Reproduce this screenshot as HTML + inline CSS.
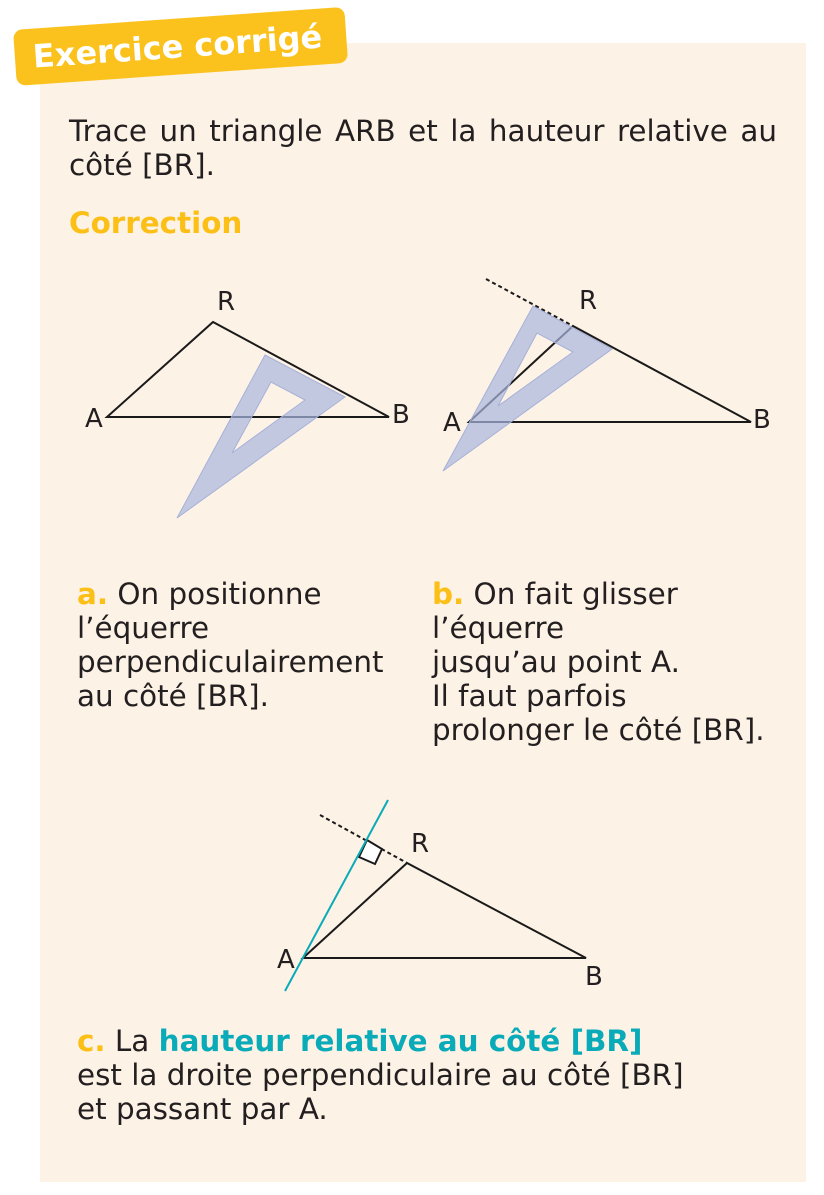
<!DOCTYPE html>
<html><head><meta charset="utf-8"><style>
body{margin:0;width:824px;height:1195px;background:#fff;position:relative;overflow:hidden;font-family:"DejaVu Sans","Liberation Sans",sans-serif;color:#231f20}
.panel{position:absolute;left:40px;top:43px;width:766px;height:1139px;background:#fdf2e6}
.badge{position:absolute;left:13px;top:30px;width:332px;height:56px;background:#fbc21d;border-radius:9px;transform:rotate(-4deg);transform-origin:0 0;color:#fff;font-weight:bold;font-size:32px;line-height:56px;padding-left:18px;box-sizing:border-box}
.t{position:absolute;font-size:29.4px;line-height:34px;white-space:nowrap}
.y{color:#fbbf16;font-weight:bold}
.c{color:#0aabb8;font-weight:bold}
svg{position:absolute;left:0;top:0}
</style></head><body>
<div class="panel"></div>
<div class="badge">Exercice corrigé</div>
<div class="t" style="left:69px;top:114px;width:708px;white-space:normal;text-align:justify;text-align-last:left">Trace un triangle ARB et la hauteur relative au côté [BR].</div>
<div class="t y" style="left:69px;top:206px">Correction</div>
<div class="t" style="left:77px;top:577px"><span class="y">a.</span> On positionne<br>l’équerre<br>perpendiculairement<br>au côté [BR].</div>
<div class="t" style="left:432px;top:577px"><span class="y">b.</span> On fait glisser<br>l’équerre<br>jusqu’au point A.<br>Il faut parfois<br>prolonger le côté [BR].</div>
<div class="t" style="left:77px;top:1024px"><span class="y">c.</span> La <span class="c">hauteur relative au côté [BR]</span><br>est la droite perpendiculaire au côté [BR]<br>et passant par A.</div>
<svg width="824" height="1195" font-family="DejaVu Sans, sans-serif" font-size="26" fill="#231f20">
<!-- a -->
<polygon points="107,417 213,322 389,417" fill="none" stroke="#1a1a1a" stroke-width="2"/>
<path d="M265,355 L345,397 L177,518 Z M271,382 L232,453 L305,400 Z" fill="#aab6de" fill-opacity="0.7" fill-rule="evenodd" stroke="#a6b1d8" stroke-width="1"/>
<text x="217" y="310">R</text><text x="85" y="427">A</text><text x="392" y="423">B</text>
<!-- b -->
<polygon points="469,422 573,326 751,422" fill="none" stroke="#1a1a1a" stroke-width="2"/>
<line x1="486" y1="279" x2="573" y2="326" stroke="#1a1a1a" stroke-width="2" stroke-dasharray="4,3"/>
<path d="M533,306 L612,349 L443,471 Z M537,333 L498,406 L573,352 Z" fill="#aab6de" fill-opacity="0.7" fill-rule="evenodd" stroke="#a6b1d8" stroke-width="1"/>
<text x="579" y="309">R</text><text x="443" y="431">A</text><text x="753" y="428">B</text>
<!-- c -->
<polygon points="303,958 407,863 586,958" fill="none" stroke="#1a1a1a" stroke-width="2"/>
<line x1="320" y1="815" x2="407" y2="863" stroke="#1a1a1a" stroke-width="2" stroke-dasharray="4,3"/>
<polygon points="367,840 382,849 375,864 359,857" fill="#fff" stroke="#1a1a1a" stroke-width="2"/>
<line x1="285" y1="991" x2="388" y2="800" stroke="#0aabb8" stroke-width="2"/>
<text x="411" y="852">R</text><text x="277" y="968">A</text><text x="585" y="985">B</text>
</svg>
</body></html>
